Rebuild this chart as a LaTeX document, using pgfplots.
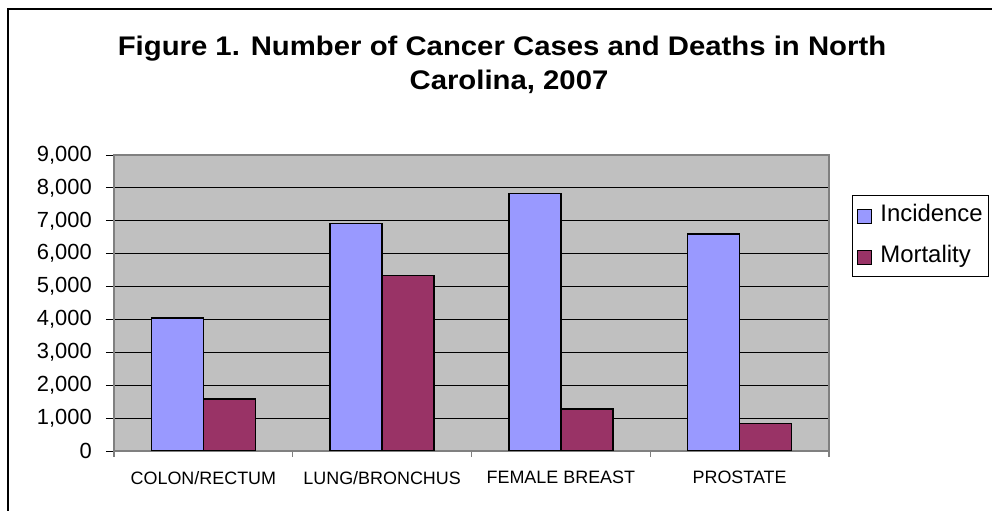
\documentclass[border=0pt]{standalone}
\usepackage{fontspec}
\setmainfont{Liberation Sans}
\usepackage{pgfplots}
\pgfplotsset{compat=1.18}
\definecolor{inc}{HTML}{9999FF}
\definecolor{mort}{HTML}{993366}
\definecolor{plotbg}{HTML}{C0C0C0}
\definecolor{frameg}{HTML}{808080}
\begin{document}
\begin{tikzpicture}
\useasboundingbox (0,0) rectangle (992bp,511bp);
\draw[line width=2bp] (8bp,-20bp) -- (8bp,502bp) -- (1020bp,502bp);
\node[anchor=base, inner sep=0pt, font=\fontsize{27}{30}\selectfont\bfseries] at (502bp,455bp) {\scalebox{1.09}[1]{Figure 1. Number of Cancer Cases and Deaths in North}};
\node[anchor=base, inner sep=0pt, font=\fontsize{27}{30}\selectfont\bfseries] at (509bp,421bp) {\scalebox{1.09}[1]{Carolina, 2007}};
\begin{axis}[
  at={(114bp,60bp)}, anchor=south west,
  scale only axis, width=715bp, height=296bp,
  xmin=-0.5, xmax=3.5, ymin=0, ymax=9000,
  ybar=0pt, bar width=52bp,
  axis background/.style={fill=plotbg},
  axis line style={frameg, line width=1.6bp},
  xtick={0,1,2,3},
  xticklabels={COLON/RECTUM, LUNG/BRONCHUS, FEMALE BREAST, PROSTATE},
  major x tick style={draw=none},
  minor xtick={-0.5,0.5,1.5,2.5,3.5},
  minor x tick style={frameg, line width=1.2bp},
  minor tick length=6bp,
  ytick={0,1000,...,9000},
  ymajorgrids, major grid style={black, line width=0.9bp},
  tick align=outside,
  major tick length=8bp,
  y tick style={black, line width=0.9bp},
  tick pos=left,
  /pgf/number format/.cd, fixed, precision=0, 1000 sep={,}, assume math mode=true,
  /pgfplots/.cd,
  yticklabel style={font=\fontsize{22}{22}\selectfont, inner sep=0pt, anchor=east, xshift=-14bp},
  xticklabel style={font=\fontsize{18}{18}\selectfont, inner sep=0pt, anchor=north, yshift=-12bp},
  legend style={at={(1,1)}, anchor=north west, xshift=22.7bp, yshift=-40bp,
    draw=black, line width=1bp, fill=white,
    font=\fontsize{24}{24}\selectfont,
    inner xsep=5bp, inner ysep=8bp, row sep=17bp, column sep=7bp,
    nodes={inner sep=1bp, text height=17bp, text depth=5bp}},
  legend cell align=left,
  sqlegend/.style={legend image code/.code={\draw[##1, line width=1.2bp] (0bp,-8bp) rectangle (14bp,6bp);}},
]
\addplot[fill=inc, draw=black, line width=1.5bp, sqlegend] coordinates {(0,4050) (1,6920) (2,7830) (3,6600)};
\addplot[fill=mort, draw=black, line width=1.5bp, sqlegend] coordinates {(0,1580) (1,5340) (2,1270) (3,840)};
\legend{Incidence, Mortality}
\end{axis}
\end{tikzpicture}
\end{document}
